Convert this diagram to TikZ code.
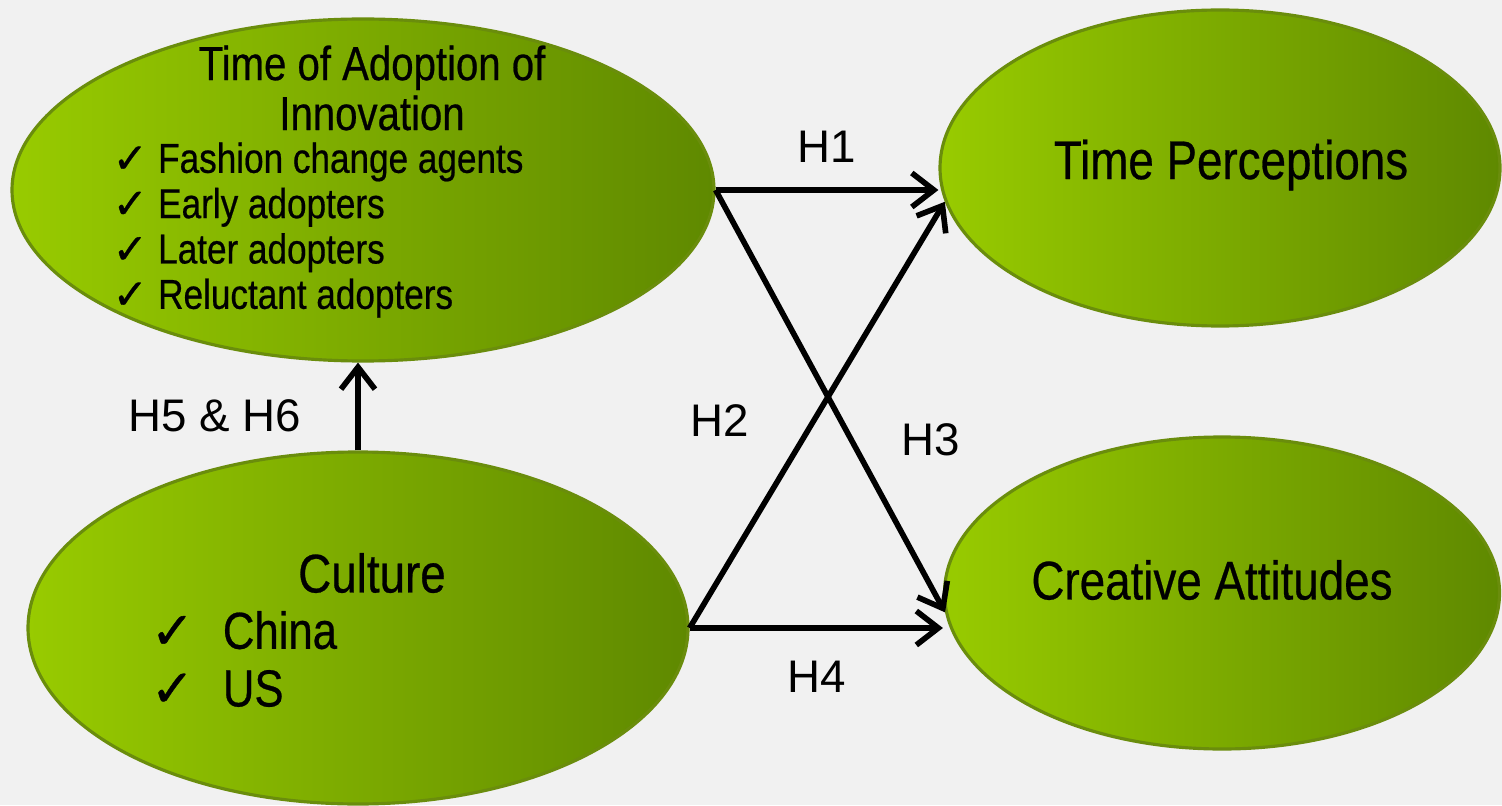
\documentclass[tikz,border=0pt]{standalone}
\usepackage{fontspec}
\setmainfont{Liberation Sans}
\newfontfamily\narrowfont[FakeStretch=0.84,FakeBold=0.5]{Liberation Sans}
\newfontfamily\symbolfont[FakeBold=0.8]{DejaVu Sans}
\usetikzlibrary{shapes.geometric,arrows.meta}
\definecolor{leafgreen}{HTML}{98CB00}
\definecolor{mossgreen}{HTML}{5F8900}
\definecolor{rimgreen}{HTML}{6A8D0C}
\definecolor{paper}{HTML}{F1F1F1}
\newcommand{\checkitem}{{\symbolfont\char"2713}\hspace{0.25em}}
\tikzset{
  ovalbox/.style = {ellipse, draw=rimgreen, line width=0.9pt, left color=leafgreen, right color=mossgreen, inner sep=0pt},
  heading/.style = {font=\narrowfont\fontsize{15.5}{17}\selectfont, align=center, inner sep=0pt},
  itemlist/.style = {font=\narrowfont\fontsize{11.9}{12.9}\selectfont, align=left, inner sep=0pt},
  hlabel/.style = {font=\fontsize{13}{15}\selectfont, inner sep=0pt},
  link/.style = {line width=1.6pt, -{Straight Barb[length=2.2mm,width=3.4mm,line width=1.6pt]}}
}
\begin{document}
\begin{tikzpicture}
  \fill[paper] (0,0) rectangle (15.02,8.05);
  \useasboundingbox (0,0) rectangle (15.02,8.05);
  % the four constructs
  \node [ovalbox, minimum width=7.02cm, minimum height=3.42cm] (adopt) at (3.63,6.15) {};
  \node [ovalbox, minimum width=5.60cm, minimum height=3.16cm] (timep) at (12.20,6.37) {};
  \node [ovalbox, minimum width=6.60cm, minimum height=3.52cm] (culture) at (3.58,1.77) {};
  \node [ovalbox, minimum width=5.55cm, minimum height=3.12cm] (creative) at (12.22,2.12) {};
  % texts inside
  \node [heading, font=\narrowfont\fontsize{13.6}{14.2}\selectfont] (adopt-title) at (3.72,7.17) {Time of Adoption of\\Innovation};
  \node [itemlist, anchor=west] (adopt-list) at (1.12,5.75)
    {\checkitem Fashion change agents\\\checkitem Early adopters\\\checkitem Later adopters\\\checkitem Reluctant adopters};
  \node [heading] (timep-title) at (12.31,6.40) {Time Perceptions};
  \node [heading] (creative-title) at (12.12,2.25) {Creative Attitudes};
  \node [heading] (culture-title) at (3.72,2.32) {Culture};
  \node [itemlist, anchor=west, font=\narrowfont\fontsize{14.8}{16.4}\selectfont] (culture-list) at (1.50,1.46)
    {\checkitem\hspace{0.3em}China\\\checkitem\hspace{0.3em}US};
  % hypotheses
  \draw [link] (adopt.east) -- (adopt.east -| timep.west)
    node [hlabel, midway, above=0.25cm] (h1) {H1};
  \draw [link] (adopt.east) -- (creative.184);
  \draw [link] (culture.east) -- (timep.187);
  \draw [link] (culture.east) -- (culture.east -| creative.west)
    node [hlabel, midway, below=0.3cm] (h4) {H4};
  \draw [link] (culture.north) -- (culture.north |- adopt.south);
  \node [hlabel] (h2) at (7.20,3.84) {H2};
  \node [hlabel] (h3) at (9.31,3.65) {H3};
  \node [hlabel] (h56) at (2.15,3.89) {H5 \& H6};
\end{tikzpicture}
\end{document}
